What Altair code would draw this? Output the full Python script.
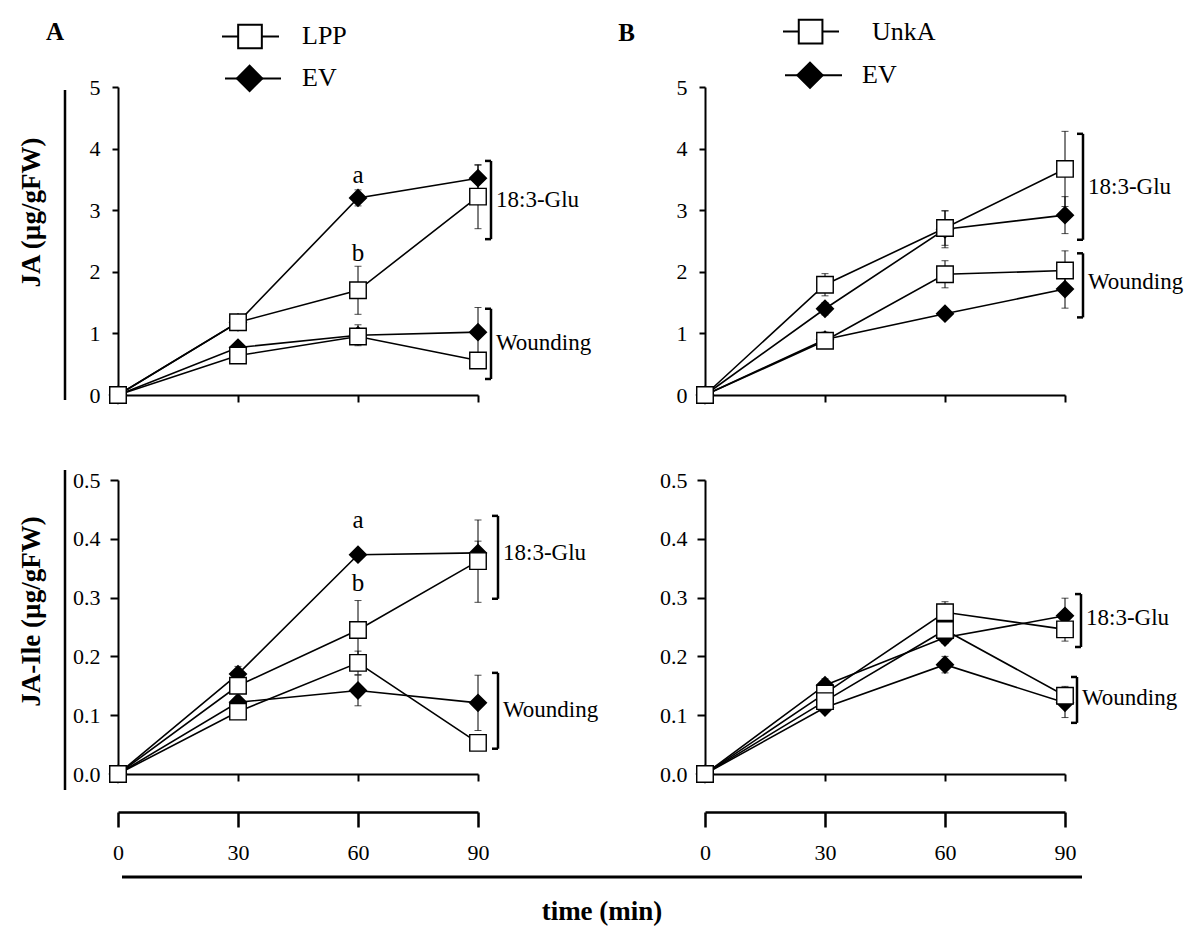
import altair as alt
import pandas as pd

# ------------------------------------------------------------------ data
TIMES = [0, 30, 60, 90]
X_TICKS = [0, 30, 60, 90]

# Panel A, JA (µg/gFW)
A_JA_LPP_GLU = [0.0, 1.18, 1.70, 3.22]
A_JA_LPP_GLU_ERR = [0.0, 0.0, 0.39, 0.52]
A_JA_EV_GLU = [0.0, 1.18, 3.20, 3.52]
A_JA_EV_GLU_ERR = [0.0, 0.0, 0.13, 0.21]
A_JA_LPP_WOUND = [0.0, 0.64, 0.95, 0.56]
A_JA_LPP_WOUND_ERR = [0.0, 0.0, 0.05, 0.0]
A_JA_EV_WOUND = [0.0, 0.77, 0.97, 1.02]
A_JA_EV_WOUND_ERR = [0.0, 0.0, 0.17, 0.40]

# Panel A, JA-Ile (µg/gFW)
A_ILE_LPP_GLU = [0.0, 0.150, 0.245, 0.362]
A_ILE_LPP_GLU_ERR = [0.0, 0.0, 0.05, 0.07]
A_ILE_EV_GLU = [0.0, 0.170, 0.373, 0.376]
A_ILE_EV_GLU_ERR = [0.0, 0.013, 0.0, 0.02]
A_ILE_LPP_WOUND = [0.0, 0.106, 0.189, 0.053]
A_ILE_LPP_WOUND_ERR = [0.0, 0.0, 0.02, 0.0]
A_ILE_EV_WOUND = [0.0, 0.122, 0.142, 0.121]
A_ILE_EV_WOUND_ERR = [0.0, 0.0, 0.026, 0.047]

# Panel B, JA
B_JA_UNKA_GLU = [0.0, 1.79, 2.71, 3.67]
B_JA_UNKA_GLU_ERR = [0.0, 0.18, 0.28, 0.61]
B_JA_EV_GLU = [0.0, 1.40, 2.69, 2.92]
B_JA_EV_GLU_ERR = [0.0, 0.10, 0.30, 0.30]
B_JA_UNKA_WOUND = [0.0, 0.88, 1.96, 2.02]
B_JA_UNKA_WOUND_ERR = [0.0, 0.05, 0.22, 0.32]
B_JA_EV_WOUND = [0.0, 0.90, 1.32, 1.72]
B_JA_EV_WOUND_ERR = [0.0, 0.12, 0.06, 0.31]

# Panel B, JA-Ile
B_ILE_UNKA_GLU = [0.0, 0.137, 0.275, 0.246]
B_ILE_UNKA_GLU_ERR = [0.0, 0.012, 0.018, 0.02]
B_ILE_EV_GLU = [0.0, 0.151, 0.232, 0.269]
B_ILE_EV_GLU_ERR = [0.0, 0.011, 0.01, 0.03]
B_ILE_UNKA_WOUND = [0.0, 0.124, 0.245, 0.133]
B_ILE_UNKA_WOUND_ERR = [0.0, 0.0, 0.01, 0.016]
B_ILE_EV_WOUND = [0.0, 0.113, 0.186, 0.121]
B_ILE_EV_WOUND_ERR = [0.0, 0.005, 0.014, 0.025]

TREATMENTS = ["18:3-Glu", "Wounding"]
JA_TICKS = [0, 1, 2, 3, 4, 5]
ILE_TICKS = [0.0, 0.1, 0.2, 0.3, 0.4, 0.5]

# ------------------------------------------------------------------ style
FONT = "Liberation Serif"
W, H_TOP, H_BOT = 360, 308, 294
BLACK = "black"


def make_df(series):
    rows = []
    for geno, kind, treat, vals, errs in series:
        for t, v, e in zip(TIMES, vals, errs):
            rows.append(dict(time=t, value=v, err=e, lo=v - e, hi=v + e,
                             geno=geno, kind=kind, treat=treat,
                             series=f"{geno} {treat}"))
    return pd.DataFrame(rows)


def panel(df, ydom, yvals, yfmt, ytitle, h, title_y, y_tick, y_pad,
          brackets, letters=None, legend=None, letter=None, side_line=None,
          strip=False, timeline=None):
    xs = alt.Scale(domain=[0, 90], nice=False, zero=False)
    ys = alt.Scale(domain=ydom, nice=False, zero=False)

    def X(field="time:Q", axis=None):
        return alt.X(field, scale=xs, axis=axis)

    def Y(field="value:Q", axis=None):
        return alt.Y(field, scale=ys, axis=axis)

    main_x_axis = alt.Axis(values=X_TICKS, labels=False, tickSize=7, title=None,
                           domainWidth=2, tickWidth=2, orient="bottom")
    ykw = dict(values=yvals, format=yfmt, tickSize=y_tick, labelPadding=y_pad,
               domainWidth=2, tickWidth=2, orient="left")
    if ytitle:
        main_y_axis = alt.Axis(title=ytitle, titleFont=FONT,
                               titleFontSize=27, titleFontWeight="bold",
                               titleColor=BLACK, titleX=-87, titleY=title_y,
                               titleBaseline="middle", titleAlign="center", **ykw)
    else:
        main_y_axis = alt.Axis(title=None, **ykw)

    errs = df[df["err"] > 0]
    caps = pd.concat([errs.assign(cap=errs["lo"]), errs.assign(cap=errs["hi"])])

    strip_axis = alt.Axis(values=X_TICKS, offset=38, tickSize=15, labelPadding=15,
                          title=None, orient="bottom", domainWidth=2.5,
                          tickWidth=2.5, labelFontSize=22)

    layers = []
    layers.append(alt.Chart(df).mark_line(color=BLACK, strokeWidth=1.6).encode(
        x=X(axis=main_x_axis), y=Y(axis=main_y_axis), detail="series:N",
        order="time:Q"))
    layers.append(alt.Chart(errs).mark_rule(color=BLACK, strokeWidth=1).encode(
        x=X(axis=strip_axis if strip else None), y=Y("lo:Q"), y2="hi:Q"))
    layers.append(alt.Chart(caps).mark_tick(orient="horizontal", size=7,
                                           thickness=1, color=BLACK).encode(
        x=X(), y=Y("cap:Q")))
    layers.append(alt.Chart(df[df["kind"] == "filled"]).mark_point(
        shape="diamond", filled=True, fill=BLACK, stroke=BLACK, size=256,
        opacity=1).encode(x=X(), y=Y()))
    layers.append(alt.Chart(df[df["kind"] == "open"]).mark_point(
        shape="square", filled=True, fill="white", stroke=BLACK, strokeWidth=1.4,
        size=272, opacity=1).encode(x=X(), y=Y()))

    # brackets grouping treatments
    br = pd.DataFrame(brackets)
    layers.append(alt.Chart(br).mark_rule(color=BLACK, strokeWidth=2.5).encode(
        x=X("bx:Q"), y=Y("lo:Q"), y2="hi:Q"))
    br_caps = pd.concat([br.assign(cy=br["lo"]), br.assign(cy=br["hi"])])
    layers.append(alt.Chart(br_caps).mark_rule(color=BLACK, strokeWidth=2.5).encode(
        x=X("cx:Q"), x2="bx:Q", y=Y("cy:Q")))
    layers.append(alt.Chart(br).mark_text(align="left", baseline="middle", dx=5,
                                          font=FONT, fontSize=23, color=BLACK).encode(
        x=X("bx:Q"), y=Y("ly:Q"), text="label:N"))

    if letters is not None:
        layers.append(alt.Chart(pd.DataFrame(letters)).mark_text(
            font=FONT, fontSize=25, color=BLACK, baseline="middle").encode(
            x=X("x:Q"), y=Y("y:Q"), text="t:N"))

    if legend is not None:
        lg = pd.DataFrame(legend)
        layers.append(alt.Chart(lg).mark_rule(color=BLACK, strokeWidth=2).encode(
            x=X("x0:Q"), x2="x1:Q", y=Y("y:Q")))
        layers.append(alt.Chart(lg[lg["kind"] == "open"]).mark_point(
            shape="square", filled=True, fill="white", stroke=BLACK, strokeWidth=2,
            size=560, opacity=1).encode(x=X("xm:Q"), y=Y("y:Q")))
        layers.append(alt.Chart(lg[lg["kind"] == "filled"]).mark_point(
            shape="diamond", filled=True, fill=BLACK, stroke=BLACK, size=640,
            opacity=1).encode(x=X("xm:Q"), y=Y("y:Q")))
        layers.append(alt.Chart(lg).mark_text(align="left", baseline="middle",
                                              font=FONT, fontSize=26,
                                              color=BLACK).encode(
            x=X("xt:Q"), y=Y("y:Q"), text="label:N"))
    if letter is not None:
        layers.append(alt.Chart(pd.DataFrame([letter])).mark_text(
            font=FONT, fontSize=25, fontWeight="bold", color=BLACK,
            baseline="middle").encode(x=X("x:Q"), y=Y("y:Q"), text="t:N"))

    if side_line is not None:
        layers.append(alt.Chart(pd.DataFrame([side_line])).mark_rule(
            color=BLACK, strokeWidth=2.5).encode(
            x=alt.value(-53), y=Y("y0:Q"), y2="y1:Q"))

    if timeline is not None:
        tl = pd.DataFrame([timeline])
        layers.append(alt.Chart(tl).mark_rule(color=BLACK, strokeWidth=3).encode(
            x=X("x0:Q"), x2="x1:Q", y=Y("y:Q")))
        layers.append(alt.Chart(tl).mark_text(font=FONT, fontSize=27,
                                              fontWeight="bold", color=BLACK,
                                              baseline="middle").encode(
            x=X("xt:Q"), y=Y("yt:Q"), text="t:N"))

    return alt.layer(*layers).properties(width=W, height=h).resolve_axis(
        x="independent", y="independent")


# ------------------------------------------------------------------ panels
dfA_ja = make_df([
    ("EV", "filled", TREATMENTS[0], A_JA_EV_GLU, A_JA_EV_GLU_ERR),
    ("LPP", "open", TREATMENTS[0], A_JA_LPP_GLU, A_JA_LPP_GLU_ERR),
    ("EV", "filled", TREATMENTS[1], A_JA_EV_WOUND, A_JA_EV_WOUND_ERR),
    ("LPP", "open", TREATMENTS[1], A_JA_LPP_WOUND, A_JA_LPP_WOUND_ERR),
])
dfA_ile = make_df([
    ("EV", "filled", TREATMENTS[0], A_ILE_EV_GLU, A_ILE_EV_GLU_ERR),
    ("LPP", "open", TREATMENTS[0], A_ILE_LPP_GLU, A_ILE_LPP_GLU_ERR),
    ("EV", "filled", TREATMENTS[1], A_ILE_EV_WOUND, A_ILE_EV_WOUND_ERR),
    ("LPP", "open", TREATMENTS[1], A_ILE_LPP_WOUND, A_ILE_LPP_WOUND_ERR),
])
dfB_ja = make_df([
    ("EV", "filled", TREATMENTS[0], B_JA_EV_GLU, B_JA_EV_GLU_ERR),
    ("UnkA", "open", TREATMENTS[0], B_JA_UNKA_GLU, B_JA_UNKA_GLU_ERR),
    ("EV", "filled", TREATMENTS[1], B_JA_EV_WOUND, B_JA_EV_WOUND_ERR),
    ("UnkA", "open", TREATMENTS[1], B_JA_UNKA_WOUND, B_JA_UNKA_WOUND_ERR),
])
dfB_ile = make_df([
    ("EV", "filled", TREATMENTS[0], B_ILE_EV_GLU, B_ILE_EV_GLU_ERR),
    ("UnkA", "open", TREATMENTS[0], B_ILE_UNKA_GLU, B_ILE_UNKA_GLU_ERR),
    ("EV", "filled", TREATMENTS[1], B_ILE_EV_WOUND, B_ILE_EV_WOUND_ERR),
    ("UnkA", "open", TREATMENTS[1], B_ILE_UNKA_WOUND, B_ILE_UNKA_WOUND_ERR),
])

topA = panel(
    dfA_ja, [0, 5], JA_TICKS, "d", "JA (µg/gFW)", H_TOP, 125, 6, 12,
    brackets=[dict(bx=93.25, cx=91.75, lo=2.53, hi=3.80, ly=3.17, label=TREATMENTS[0]),
              dict(bx=93.25, cx=91.75, lo=0.26, hi=1.40, ly=0.84, label=TREATMENTS[1])],
    letters=[dict(t="a", x=60, y=3.57), dict(t="b", x=60, y=2.31)],
    legend=[dict(label="LPP", kind="open", x0=26, x1=40.25, xm=33, xt=46, y=5.82),
            dict(label="EV", kind="filled", x0=26.75, x1=40.75, xm=32.9, xt=46, y=5.14)],
    letter=dict(t="A", x=-15.75, y=5.9),
    side_line=dict(y0=4.95, y1=-0.08),
)
topB = panel(
    dfB_ja, [0, 5], JA_TICKS, "d", None, H_TOP, 125, 6, 12,
    brackets=[dict(bx=94.5, cx=93.0, lo=2.52, hi=4.24, ly=3.38, label=TREATMENTS[0]),
              dict(bx=94.5, cx=93.0, lo=1.26, hi=2.30, ly=1.83, label=TREATMENTS[1])],
    legend=[dict(label="UnkA", kind="open", x0=19.5, x1=33.5, xm=26.4, xt=41.75, y=5.9),
            dict(label="EV", kind="filled", x0=20, x1=34.25, xm=26.25, xt=39.25, y=5.19)],
    letter=dict(t="B", x=-19.6, y=5.88),
)
botA = panel(
    dfA_ile, [0, 0.5], ILE_TICKS, ".1f", "JA-Ile (µg/gFW)", H_BOT, 131, 8, 10,
    brackets=[dict(bx=95, cx=93.5, lo=0.298, hi=0.439, ly=0.376, label=TREATMENTS[0]),
              dict(bx=95, cx=93.5, lo=0.043, hi=0.172, ly=0.109, label=TREATMENTS[1])],
    letters=[dict(t="a", x=60, y=0.432), dict(t="b", x=60, y=0.325)],
    side_line=dict(y0=0.517, y1=-0.027),
    strip=True,
    timeline=dict(x0=1, x1=241, y=-0.175, xt=121, yt=-0.235, t="time (min)"),
)
botB = panel(
    dfB_ile, [0, 0.5], ILE_TICKS, ".1f", None, H_BOT, 131, 8, 10,
    brackets=[dict(bx=94, cx=92.5, lo=0.216, hi=0.306, ly=0.265, label=TREATMENTS[0]),
              dict(bx=93, cx=91.5, lo=0.087, hi=0.165, ly=0.129, label=TREATMENTS[1])],
    strip=True,
)

chart = alt.concat(
    topA, topB, botA, botB, columns=2,
    spacing={"row": 85, "column": 227}, bounds="flush",
).properties(
    padding={"left": 8, "top": 7, "right": 5, "bottom": 5},
).configure_axis(
    labelFont=FONT, labelFontSize=22, labelColor=BLACK, domainColor=BLACK,
    tickColor=BLACK, grid=False, labelFlush=False,
).configure_view(stroke=None)

chart.save("out.html", embed_options={"renderer": "svg", "actions": False})
